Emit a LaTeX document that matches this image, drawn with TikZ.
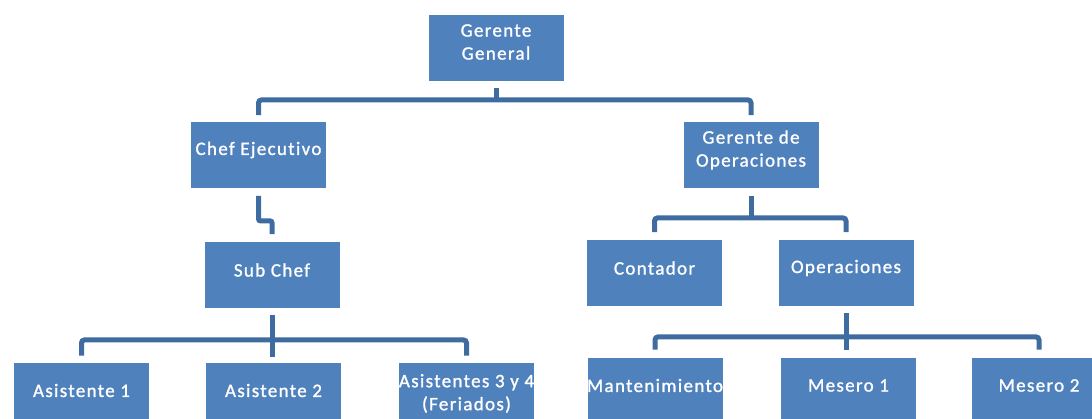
\documentclass[tikz,border=0pt]{standalone}
\usepackage{fontspec}
\setmainfont{Carlito}[LetterSpace=7, FakeBold=1.2, Ligatures={NoCommon}]
\definecolor{boxblue}{HTML}{4F81BD}
\definecolor{linkblue}{RGB}{62,108,160}
\begin{document}
\begin{tikzpicture}[x=1pt,y=-1pt,
  box/.style={rectangle, fill=boxblue, draw=white, line width=0.8pt, minimum width=136pt, minimum height=67pt, inner sep=0pt},
  txt/.style={text=white, font=\fontsize{19}{23}\selectfont, align=center, yshift=5pt, inner sep=0pt},
  conn/.style={draw=linkblue, line width=5pt, rounded corners=3pt}]
\useasboundingbox (0,0) rectangle (1092,418);
\clip (0,0) rectangle (1092,418);
% boxes
\node[box, label={[txt, yshift=1pt]center:{Gerente\\General}}] (gg) at (496,48) {};
\node[box, label={[txt]center:{Chef Ejecutivo}}] (ce) at (258.5,155) {};
\node[box, label={[txt]center:{Gerente de\\Operaciones}}] (gdo) at (751,155) {};
\node[box, label={[txt]center:{Sub Chef}}] (sc) at (272,275) {};
\node[box, label={[txt]center:{Contador}}] (cont) at (654.5,273) {};
\node[box, label={[txt]center:{Operaciones}}] (oper) at (846,273) {};
\node[box, label={[txt]center:{Asistente 1}}] (a1) at (81.5,395.5) {};
\node[box, label={[txt]center:{Asistente 2}}] (a2) at (273.5,395.5) {};
\node[box, label={[txt, yshift=-3pt]center:{Asistentes 3 y 4\\(Feriados)}}] (a3) at (466.5,395.5) {};
\node[box, label={[txt]center:{Mantenimiento}}] (mant) at (655,390.5) {};
\node[box, label={[txt]center:{Mesero 1}}] (m1) at (848.5,390.5) {};
\node[box, label={[txt]center:{Mesero 2}}] (m2) at (1039,390.5) {};
% connectors
\draw[conn] ([yshift=-6pt]gg.south) -- ([yshift=-18pt]gg.south);
\draw[conn] ([yshift=6pt]ce.north) |- ([yshift=-18pt]gg.south) -| ([yshift=6pt]gdo.north);
\draw[conn, rounded corners=2pt] ([yshift=-7pt]ce.south) -- ([yshift=-32pt]ce.south) -| ([yshift=7pt]sc.north);
\draw[conn] ([yshift=-7pt]gdo.south) -- ([yshift=-29pt]gdo.south);
\draw[conn] ([yshift=7pt]cont.north) |- ([yshift=-29pt]gdo.south) -| ([yshift=7pt]oper.north);
\draw[conn] ([yshift=-6pt]sc.south) -- ([yshift=-48pt]sc.south);
\draw[conn] ([yshift=6pt]a1.north) |- ([yshift=-31pt]sc.south) -| ([yshift=6pt]a3.north);
\draw[conn] ([yshift=-6pt]oper.south) -- ([yshift=-43pt]oper.south);
\draw[conn] ([yshift=7pt]mant.north) |- ([yshift=-30pt]oper.south) -| ([yshift=7pt]m2.north);
\end{tikzpicture}
\end{document}
